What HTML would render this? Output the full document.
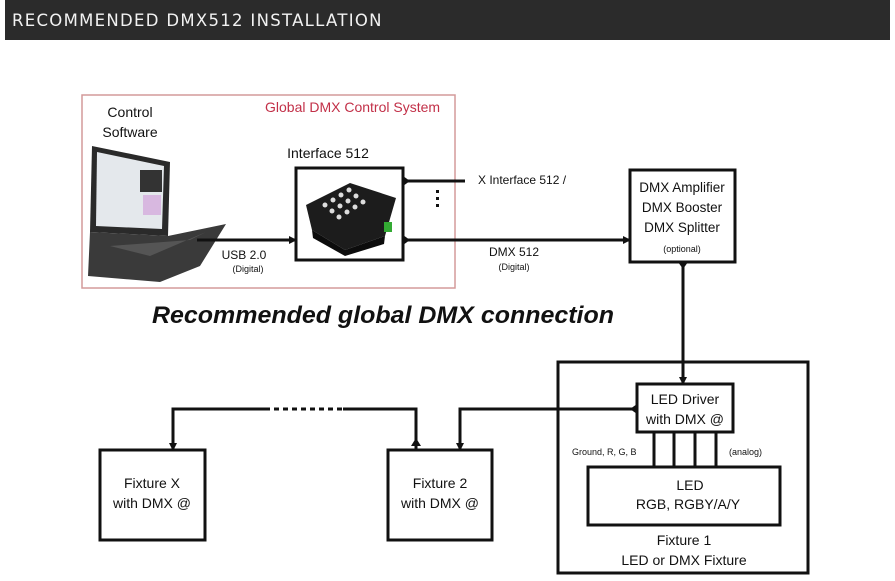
<!DOCTYPE html>
<html><head><meta charset="utf-8"><style>
html,body{margin:0;padding:0;background:#fff;width:895px;height:581px;overflow:hidden}
svg{display:block}
text{font-family:"Liberation Sans",Arial,sans-serif;fill:#111}
</style></head><body>
<svg width="895" height="581" viewBox="0 0 895 581" xmlns="http://www.w3.org/2000/svg">
<defs>
<marker id="a" markerWidth="8" markerHeight="8" refX="7" refY="4" orient="auto" markerUnits="userSpaceOnUse"><path d="M0,0 L8,4 L0,8 z" fill="#111"/></marker>
</defs>
<rect x="5" y="0" width="885" height="40" fill="#2b2b2b"/>
<text x="12" y="26" font-size="16.5" letter-spacing="1.3" style="fill:#f2f2f2;font-family:'DejaVu Sans','Liberation Sans',sans-serif">RECOMMENDED DMX512 INSTALLATION</text>

<rect x="82" y="95" width="373" height="193" fill="none" stroke="#d49a9a" stroke-width="1.5"/>
<text x="265" y="112" font-size="14" style="fill:#c23048">Global DMX Control System</text>
<text x="130" y="117" font-size="14" text-anchor="middle">Control</text>
<text x="130" y="137" font-size="14" text-anchor="middle">Software</text>

<!-- laptop -->
<polygon points="92,146 170,162 168,236 90,232" fill="#2a2a2a"/>
<polygon points="97,152 164,166 162,229 96,226" fill="#e4e8ec"/>
<rect x="140" y="170" width="22" height="22" fill="#333"/>
<rect x="143" y="195" width="18" height="20" fill="#d8b8e0"/>
<polygon points="90,232 168,236 226,224 200,266 160,282 88,276" fill="#3a3a3a"/>
<polygon points="110,246 190,240 206,232 150,256" fill="#555"/>

<text x="328" y="158" font-size="14" text-anchor="middle">Interface 512</text>
<rect x="296" y="168" width="107" height="92" fill="#fff" stroke="#111" stroke-width="3"/>
<polygon points="306,205 350,183 396,198 385,236 345,250 312,230" fill="#1c1c1c"/>
<polygon points="312,230 345,250 385,236 384,244 345,256 313,238" fill="#0c0c0c"/>
<g fill="#ddd"><circle cx="325" cy="205" r="2.5"/><circle cx="333" cy="200" r="2.5"/><circle cx="341" cy="195" r="2.5"/><circle cx="349" cy="190" r="2.5"/><circle cx="332" cy="211" r="2.5"/><circle cx="340" cy="206" r="2.5"/><circle cx="348" cy="201" r="2.5"/><circle cx="356" cy="196" r="2.5"/><circle cx="339" cy="217" r="2.5"/><circle cx="347" cy="212" r="2.5"/><circle cx="355" cy="207" r="2.5"/><circle cx="363" cy="202" r="2.5"/></g>
<rect x="384" y="222" width="8" height="10" fill="#3a3"/>

<line x1="197" y1="240" x2="296" y2="240" stroke="#111" stroke-width="3" marker-end="url(#a)"/>
<text x="244" y="259" font-size="12" text-anchor="middle">USB 2.0</text>
<text x="248" y="272" font-size="9" text-anchor="middle">(Digital)</text>

<line x1="403" y1="181" x2="465" y2="181" stroke="#111" stroke-width="3"/>
<path d="M403,176 L410,181 L403,186z" fill="#111"/>
<text x="478" y="184" font-size="12">X Interface 512 /</text>
<g fill="#111"><rect x="436" y="190" width="3" height="3"/><rect x="436" y="197" width="3" height="3"/><rect x="436" y="204" width="3" height="3"/></g>
<line x1="403" y1="240" x2="630" y2="240" stroke="#111" stroke-width="3" marker-end="url(#a)"/>
<path d="M403,235 L410,240 L403,245z" fill="#111"/>
<text x="514" y="256" font-size="12" text-anchor="middle">DMX 512</text>
<text x="514" y="270" font-size="9" text-anchor="middle">(Digital)</text>

<rect x="630" y="170" width="105" height="92" fill="#fff" stroke="#111" stroke-width="3"/>
<text x="682" y="192" font-size="13.5" text-anchor="middle">DMX Amplifier</text>
<text x="682" y="212" font-size="13.5" text-anchor="middle">DMX Booster</text>
<text x="682" y="232" font-size="13.5" text-anchor="middle">DMX Splitter</text>
<text x="682" y="252" font-size="9" text-anchor="middle">(optional)</text>
<line x1="683" y1="262" x2="683" y2="384" stroke="#111" stroke-width="3" marker-end="url(#a)"/>
<path d="M678,262 L683,269 L688,262z" fill="#111"/>

<text x="152" y="323" font-size="24" font-weight="bold" font-style="italic" textLength="462" lengthAdjust="spacingAndGlyphs">Recommended global DMX connection</text>

<rect x="558" y="362" width="250" height="211" fill="none" stroke="#111" stroke-width="3"/>
<rect x="637" y="384" width="96" height="48" fill="#fff" stroke="#111" stroke-width="3"/>
<text x="685" y="404" font-size="14" text-anchor="middle">LED Driver</text>
<text x="685" y="424" font-size="14" text-anchor="middle">with DMX @</text>
<g stroke="#111" stroke-width="3"><line x1="654" y1="432" x2="654" y2="467"/><line x1="674" y1="432" x2="674" y2="467"/><line x1="695" y1="432" x2="695" y2="467"/><line x1="716" y1="432" x2="716" y2="467"/></g>
<text x="572" y="455" font-size="9">Ground, R, G, B</text>
<text x="729" y="455" font-size="9">(analog)</text>
<rect x="588" y="467" width="192" height="58" fill="#fff" stroke="#111" stroke-width="3"/>
<text x="690" y="490" font-size="14" text-anchor="middle">LED</text>
<text x="688" y="509" font-size="14" text-anchor="middle">RGB, RGBY/A/Y</text>
<text x="684" y="545" font-size="14" text-anchor="middle">Fixture 1</text>
<text x="684" y="565" font-size="14" text-anchor="middle">LED or DMX Fixture</text>

<polyline points="637,409 460,409 460,450" fill="none" stroke="#111" stroke-width="3" marker-end="url(#a)"/>
<path d="M637,404 L630,409 L637,414z" fill="#111"/>

<rect x="388" y="450" width="104" height="90" fill="#fff" stroke="#111" stroke-width="3"/>
<text x="440" y="488" font-size="14" text-anchor="middle">Fixture 2</text>
<text x="440" y="508" font-size="14" text-anchor="middle">with DMX @</text>
<rect x="100" y="450" width="105" height="90" fill="#fff" stroke="#111" stroke-width="3"/>
<text x="152" y="488" font-size="14" text-anchor="middle">Fixture X</text>
<text x="152" y="508" font-size="14" text-anchor="middle">with DMX @</text>

<polyline points="416,450 416,409 343,409" fill="none" stroke="#111" stroke-width="3"/>
<path d="M411,446 L416,438 L421,446z" fill="#111"/>
<line x1="265" y1="409" x2="343" y2="409" stroke="#111" stroke-width="3" stroke-dasharray="5,4"/>
<polyline points="265,409 173,409 173,450" fill="none" stroke="#111" stroke-width="3" marker-end="url(#a)"/>
</svg>
</body></html>
